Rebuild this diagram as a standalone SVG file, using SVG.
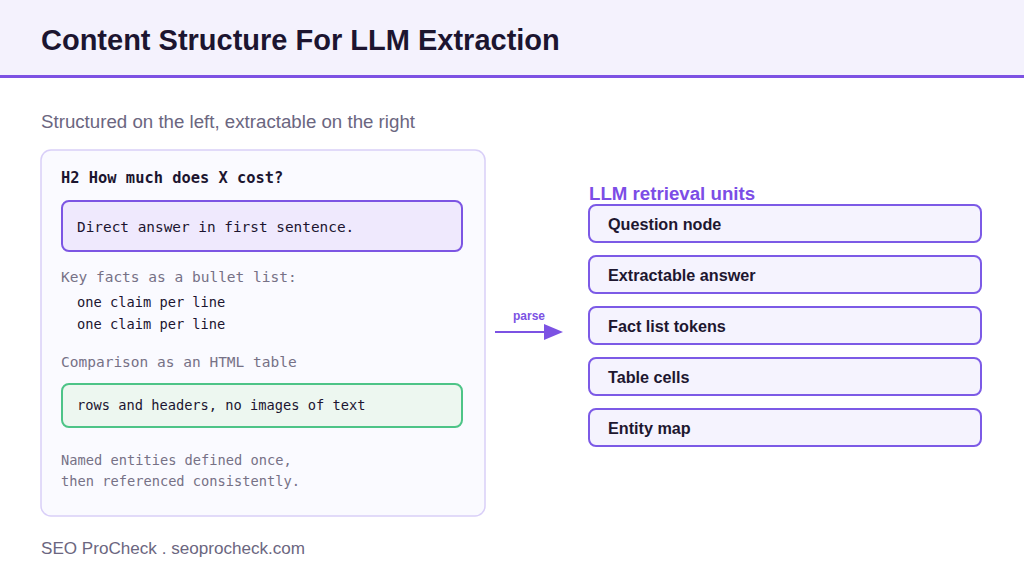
<svg xmlns="http://www.w3.org/2000/svg" width="1024" height="576" viewBox="0 0 1024 576">
<defs>
<style>
.sans{font-family:"Liberation Sans",Arial,sans-serif}
.mono{font-family:"DejaVu Sans Mono","Liberation Mono",monospace}
.unit rect{fill:#f5f3fe;stroke:#7c5ae6;stroke-width:2}
.unit text{font-family:"Liberation Sans",Arial,sans-serif;font-weight:bold;font-size:16.2px;fill:#1e1730}
.muted{fill:#767186}
</style>
</defs>
<rect width="1024" height="576" fill="#ffffff"/>
<g id="header">
<rect x="0" y="0" width="1024" height="75" fill="#f4f2fd"/>
<rect x="0" y="75" width="1024" height="3" fill="#7d52e3"/>
<text x="41" y="50" class="sans" font-weight="bold" font-size="29" fill="#1c1530">Content Structure For LLM Extraction</text>
</g>
<text x="41" y="128" class="sans" font-size="18.7" fill="#6b6680">Structured on the left, extractable on the right</text>
<g id="source-panel">
<rect x="41" y="150" width="444" height="366" rx="10" fill="#fafaff" stroke="#d9cff8" stroke-width="1.5"/>
<text x="61" y="183" class="mono" font-weight="bold" font-size="15.4" fill="#1c1530">H2 How much does X cost?</text>
<g id="direct-answer">
<rect x="62" y="201" width="400" height="50" rx="7" fill="#efe9fd" stroke="#7c55e3" stroke-width="2"/>
<text x="77" y="232" class="mono" font-size="14.4" fill="#1c1530">Direct answer in first sentence.</text>
</g>
<text x="61" y="282" class="mono muted" font-size="14.5">Key facts as a bullet list:</text>
<text x="77" y="307" class="mono" font-size="13.7" fill="#1c1530">one claim per line</text>
<text x="77" y="329" class="mono" font-size="13.7" fill="#1c1530">one claim per line</text>
<text x="61" y="367" class="mono muted" font-size="14.5">Comparison as an HTML table</text>
<g id="table-box">
<rect x="62" y="384" width="400" height="43" rx="7" fill="#edf7f0" stroke="#4dc487" stroke-width="2"/>
<text x="77" y="410" class="mono" font-size="13.7" fill="#1c1530">rows and headers, no images of text</text>
</g>
<text x="61" y="465" class="mono muted" font-size="13.7">Named entities defined once,</text>
<text x="61" y="486" class="mono muted" font-size="13.7">then referenced consistently.</text>
</g>
<g id="connectors">
<line x1="495" y1="332" x2="548" y2="332" stroke="#7c52e3" stroke-width="2"/>
<path d="M544,324 L563,332 L544,340 z" fill="#7c52e3"/>
<text x="529" y="320" class="sans" font-weight="bold" font-size="12" fill="#7c52e3" text-anchor="middle">parse</text>
</g>
<text x="589" y="200" class="sans" font-weight="bold" font-size="18.7" fill="#7c4de6">LLM retrieval units</text>
<g id="unit-question" class="unit"><rect x="589" y="205" width="392" height="37" rx="7"/><text x="608" y="230">Question node</text></g>
<g id="unit-answer" class="unit"><rect x="589" y="256" width="392" height="37" rx="7"/><text x="608" y="281">Extractable answer</text></g>
<g id="unit-facts" class="unit"><rect x="589" y="307" width="392" height="37" rx="7"/><text x="608" y="332">Fact list tokens</text></g>
<g id="unit-table" class="unit"><rect x="589" y="358" width="392" height="37" rx="7"/><text x="608" y="383">Table cells</text></g>
<g id="unit-entity" class="unit"><rect x="589" y="409" width="392" height="37" rx="7"/><text x="608" y="434">Entity map</text></g>
<text x="41" y="554" class="sans" font-size="17.1" fill="#6b6680">SEO ProCheck . seoprocheck.com</text>
</svg>
